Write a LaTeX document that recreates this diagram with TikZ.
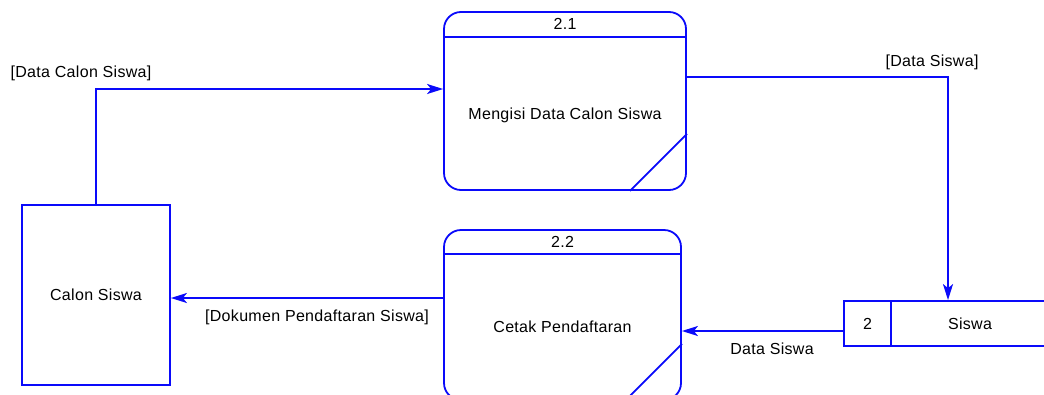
\documentclass[tikz,border=0pt]{standalone}
\usepackage{fontspec}
\setmainfont{Liberation Sans}[LetterSpace=2]
\usetikzlibrary{arrows.meta}
\definecolor{dfdblue}{RGB}{10,10,250}
\tikzset{
  proc/.style={draw=dfdblue, line width=1.8pt, rounded corners=17pt, inner sep=0pt},
  ent/.style={draw=dfdblue, line width=1.8pt, inner sep=0pt},
  flow/.style={draw=dfdblue, line width=1.8pt, -{Stealth[length=16pt,width=10pt,inset=4pt]}},
  lbl/.style={font=\fontsize{16}{19}\selectfont, inner sep=0pt}
}
\begin{document}
\begin{tikzpicture}[x=1pt,y=-1pt,every node/.style={lbl}]
\useasboundingbox (0,0) rectangle (1044,394);
\clip (0,0) rectangle (1044,394);
\node[ent, minimum width=148pt, minimum height=180pt] (cs) at (96,295) {};
\node[proc, minimum width=242pt, minimum height=178pt] (p21) at (565,101) {};
\node[proc, minimum width=237pt, minimum height=170pt] (p22) at (562.5,315) {};
\node[ent, minimum width=47pt, minimum height=45pt] (n2) at (867.5,323.5) {};
\node[ent, minimum width=158pt, minimum height=45pt] (ds) at (970,323.5) {};
\node (t0) at (cs.center) {Calon Siswa};
\node (t1) at ([yshift=-13pt]p21.north) {2.1};
\node (t2) at ([yshift=-14pt]p21.center) {Mengisi Data Calon Siswa};
\node (t3) at ([yshift=-13pt]p22.north) {2.2};
\node (t4) at ([yshift=-12pt]p22.center) {Cetak Pendaftaran};
\node (t5) at (n2.center) {2};
\node (t6) at (ds.center) {Siswa};
\path[draw=dfdblue,line width=1.8pt] ([yshift=-26pt]p21.north west) -- ([yshift=-26pt]p21.north east);
\path[draw=dfdblue,line width=1.8pt] ([xshift=-57pt]p21.south east) -- ([yshift=57pt]p21.south east);
\path[draw=dfdblue,line width=1.8pt] ([yshift=-25pt]p22.north west) -- ([yshift=-25pt]p22.north east);
\path[draw=dfdblue,line width=1.8pt] ([xshift=-57pt]p22.south east) -- ([yshift=57pt]p22.south east);
\path[flow] (cs.north) |- ([yshift=12pt]p21.west);
\path[flow] ([yshift=24pt]p21.east) -| ([xshift=-22pt]ds.north);
\path[flow] ([yshift=-7.5pt]n2.west) -- ([yshift=-16pt]p22.east);
\path[flow] ([yshift=17pt]p22.west) -- ([yshift=-3pt]cs.east);
\node (f1) at (81,73) {[Data Calon Siswa]};
\node (f2) at (932,62) {[Data Siswa]};
\node (f3) at (772,349) {Data Siswa};
\node (f4) at (317,317) {[Dokumen Pendaftaran Siswa]};
\end{tikzpicture}
\end{document}
